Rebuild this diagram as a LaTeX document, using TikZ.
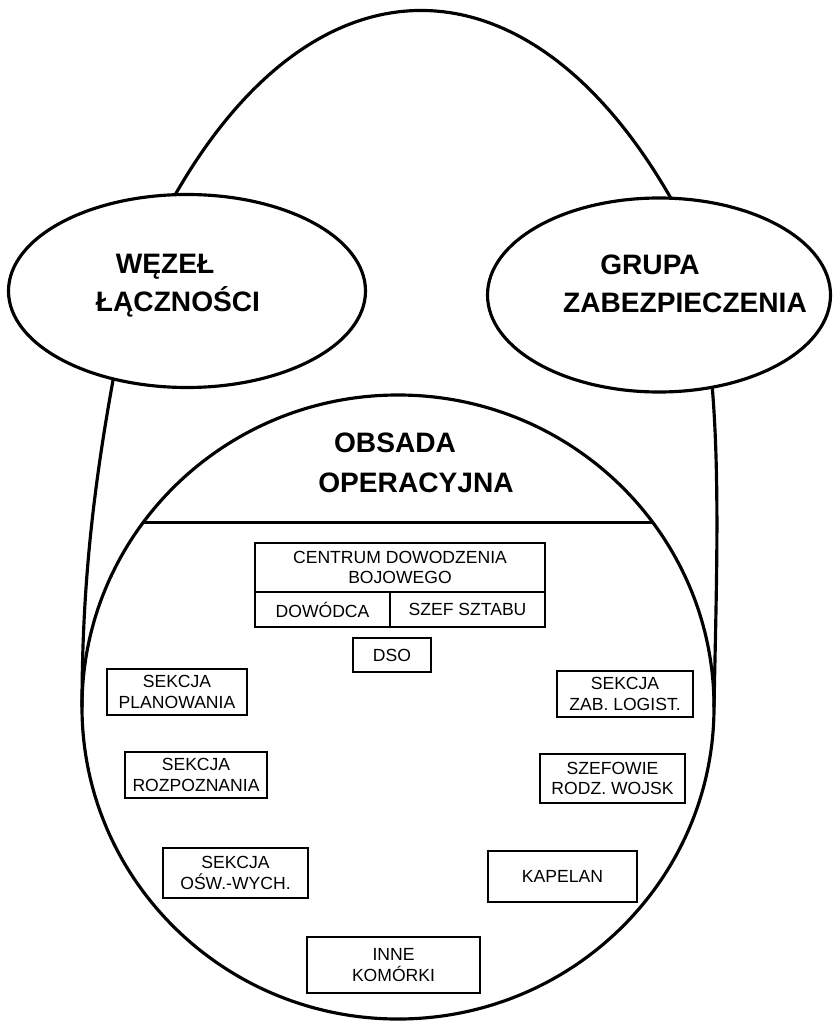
\documentclass[tikz,border=0pt]{standalone}
\usepackage{fontspec}
\setmainfont{Liberation Sans}
\usepackage{tikz}
\usetikzlibrary{shapes.geometric}
\tikzset{groupnode/.style={shape=ellipse,draw,line width=1.8pt,inner sep=0pt,outer sep=0pt}}
\tikzset{titlenode/.style={align=center,font=\fontsize{16}{21.5}\selectfont\bfseries}}
\tikzset{cellnode/.style={shape=rectangle,draw,line width=1.5pt,inner sep=1pt,outer sep=0pt,align=center,font=\fontsize{10}{11.5}\selectfont}}

\begin{document}
\begin{tikzpicture}[x=0.2mm,y=-0.2mm]
		\useasboundingbox[fill=white] (0,0) rectangle (836,1025);
		%
		\node[groupnode,minimum width=71.4mm,minimum height=38.6mm] (wezel) at (187,291) {};
		\node[groupnode,minimum width=68.6mm,minimum height=38.8mm] (grupa) at (659,295) {};
		\node[groupnode,minimum width=126.4mm,minimum height=124.8mm] (obsada) at (398,707) {};
		\node[titlenode] (wezeltxt) at (178,286) {WĘZEŁ\hspace*{5.2mm}\\ŁĄCZNOŚCI};
		\node[titlenode] (grupatxt) at (685,284) {GRUPA\hspace*{14mm}\\ZABEZPIECZENIA};
		\node[titlenode,font=\fontsize{16}{22.5}\selectfont\bfseries] (obsadatxt) at (416,463) {OBSADA\hspace*{8.4mm}\\OPERACYJNA};
		%
		\draw[line width=1.8pt] (wezel.97) .. controls +(142,-248) and +(-142,-248) .. (grupa.83);
		\draw[line width=1.8pt] (wezel.230) .. controls +(-20,110) and +(0,-120) .. (obsada.west);
		\draw[line width=1.8pt] (grupa.300) .. controls +(8,95) and +(2,-107) .. (obsada.east);
		\draw[line width=1.8pt] (obsada.144) -- (obsada.36);
		%
		\node[cellnode,minimum width=58mm,minimum height=9.8mm] (cdb) at (400,567.5) {CENTRUM DOWODZENIA\\BOJOWEGO};
		\node[cellnode,anchor=north west,minimum width=27mm,minimum height=7mm] (dowodca) at (cdb.south west) {DOWÓDCA};
		\node[cellnode,anchor=north east,minimum width=31mm,minimum height=7mm] (szef) at (cdb.south east) {SZEF SZTABU};
		\node[cellnode,minimum width=15.6mm,minimum height=6.8mm] (dso) at (392,655) {DSO};
		%
		\node[cellnode,minimum width=28mm,minimum height=9.2mm] (plan) at (177,692) {SEKCJA\\PLANOWANIA};
		\node[cellnode,minimum width=28.4mm,minimum height=9.2mm] (rozp) at (196,775) {SEKCJA\\ROZPOZNANIA};
		\node[cellnode,minimum width=29mm,minimum height=10mm] (osw) at (235.5,873) {SEKCJA\\OŚW.-WYCH.};
		\node[cellnode,minimum width=34.6mm,minimum height=11.2mm] (inne) at (393.5,965) {INNE\\KOMÓRKI};
		\node[cellnode,minimum width=29.8mm,minimum height=10.2mm] (kapelan) at (562.5,876.5) {KAPELAN};
		\node[cellnode,minimum width=29mm,minimum height=9.8mm] (szefowie) at (612.5,778.5) {SZEFOWIE\\RODZ. WOJSK};
		\node[cellnode,minimum width=27.2mm,minimum height=9.2mm] (logist) at (625,694) {SEKCJA\\ZAB. LOGIST.};
	\end{tikzpicture}
\end{document}
